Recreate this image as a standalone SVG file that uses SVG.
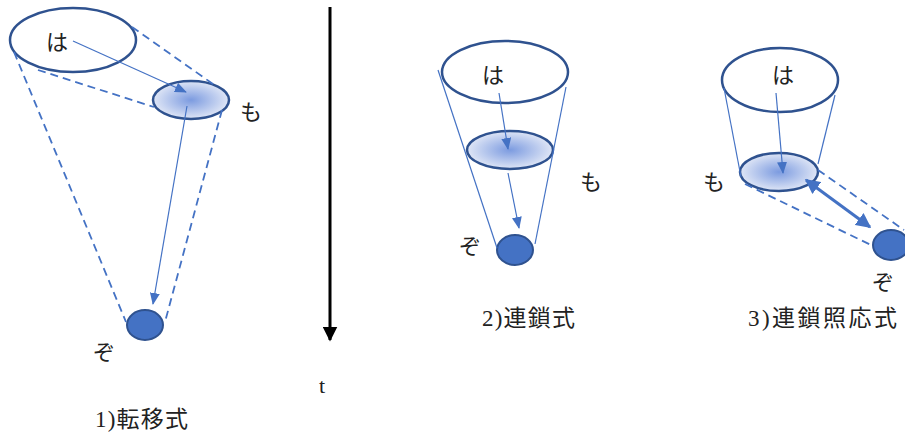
<svg xmlns="http://www.w3.org/2000/svg" width="905" height="433" viewBox="0 0 905 433">
<style>
.big{fill:#ffffff;stroke:#2f528f;stroke-width:2.5}
.mid{fill:url(#grad);stroke:#2f528f;stroke-width:2.5}
.dot{fill:#4472c4;stroke:#2f528f;stroke-width:2}
.dash{fill:none;stroke:#4472c4;stroke-width:1.8;stroke-dasharray:8 5}
.thin{fill:none;stroke:#4472c4;stroke-width:1.2}
.arr{fill:none;stroke:#4472c4;stroke-width:1.2;marker-end:url(#ah)}
.lbl{font-family:"Liberation Serif","Noto Sans CJK JP",serif;font-size:22px;fill:#222}
.cap{font-family:"Liberation Serif","Noto Sans CJK JP",serif;font-size:23px;fill:#222}
</style>
<defs>
<radialGradient id="grad" cx="0.5" cy="0.5" r="0.5">
<stop offset="0" stop-color="#7c9be0"/>
<stop offset="1" stop-color="#dfe6f6"/>
</radialGradient>
<marker id="ah" viewBox="0 0 12 10" refX="11" refY="5" markerWidth="12" markerHeight="10" markerUnits="userSpaceOnUse" orient="auto">
<path d="M0,0 L12,5 L0,10 z" fill="#4472c4"/>
</marker>
<marker id="ah2" viewBox="0 0 10 10" refX="9" refY="5" markerWidth="5" markerHeight="5" orient="auto-start-reverse">
<path d="M0,0 L10,5 L0,10 z" fill="#4472c4"/>
</marker>
<marker id="blk" viewBox="0 0 10 10" refX="9" refY="5" markerWidth="5" markerHeight="5" orient="auto">
<path d="M0,0 L10,5 L0,10 z" fill="#000"/>
</marker>
</defs>

<g id="d1-ha"><ellipse class="big" cx="73" cy="40" rx="63" ry="32"/><text class="lbl" x="46" y="50">は</text></g>
<g id="d1-mo"><ellipse class="mid" cx="191" cy="100" rx="38" ry="19"/><text class="lbl" x="240" y="120">も</text></g>
<g id="d1-zo"><ellipse class="dot" cx="145" cy="325" rx="18" ry="15"/><text class="lbl" x="93" y="360">ぞ</text></g>
<g id="d1-cap"><text class="cap" x="95" y="427" textLength="93" lengthAdjust="spacing">1)転移式</text></g>

<g id="t-axis"><text class="lbl" x="319" y="393">t</text></g>

<g id="d2-ha"><ellipse class="big" cx="505" cy="72" rx="63" ry="31"/><text class="lbl" x="482" y="83">は</text></g>
<g id="d2-mo"><ellipse class="mid" cx="510" cy="150" rx="43" ry="19"/><text class="lbl" x="580" y="190">も</text></g>
<g id="d2-zo"><ellipse class="dot" cx="515" cy="250" rx="18" ry="15"/><text class="lbl" x="459" y="254">ぞ</text></g>
<g id="d2-cap"><text class="cap" x="482" y="326" textLength="93" lengthAdjust="spacing">2)連鎖式</text></g>

<g id="d3-ha"><ellipse class="big" cx="780" cy="80" rx="58" ry="32"/><text class="lbl" x="772" y="83">は</text></g>
<g id="d3-mo"><ellipse class="mid" cx="779" cy="172" rx="39" ry="19"/><text class="lbl" x="703" y="190">も</text></g>
<g id="d3-zo"><ellipse class="dot" cx="891" cy="245" rx="18" ry="15"/><text class="lbl" x="872" y="290">ぞ</text></g>
<g id="d3-cap"><text class="cap" x="748" y="326" textLength="149" lengthAdjust="spacing">3)連鎖照応式</text></g>

<g id="connectors">
<!-- diagram 1 -->
<line class="dash" x1="132" y1="27" x2="213" y2="84"/>
<line class="dash" x1="38" y1="70" x2="154" y2="107"/>
<line class="dash" x1="14" y1="52" x2="126" y2="322"/>
<line class="dash" x1="222" y1="110" x2="165" y2="322"/>
<line class="arr" x1="73" y1="41" x2="186" y2="92"/>
<line class="arr" x1="187" y1="106" x2="153" y2="304"/>
<!-- time axis -->
<line x1="330" y1="7" x2="330" y2="340" stroke="#000" stroke-width="3" marker-end="url(#blk)"/>
<!-- diagram 2 -->
<line class="thin" x1="438" y1="70" x2="497" y2="248"/>
<line class="thin" x1="566" y1="87" x2="535" y2="244"/>
<line class="arr" x1="499" y1="93" x2="508" y2="149"/>
<line class="arr" x1="508" y1="173" x2="519" y2="228"/>
<!-- diagram 3 -->
<line class="thin" x1="724" y1="88" x2="741" y2="177"/>
<line class="thin" x1="835" y1="95" x2="818" y2="164"/>
<line class="arr" x1="776" y1="93" x2="783" y2="173"/>
<line class="dash" x1="745" y1="184" x2="873" y2="246"/>
<line class="dash" x1="818" y1="170" x2="904" y2="230"/>
<line x1="806" y1="180" x2="870" y2="227" stroke="#4472c4" stroke-width="3" marker-start="url(#ah2)" marker-end="url(#ah2)"/>
</g>
</svg>
